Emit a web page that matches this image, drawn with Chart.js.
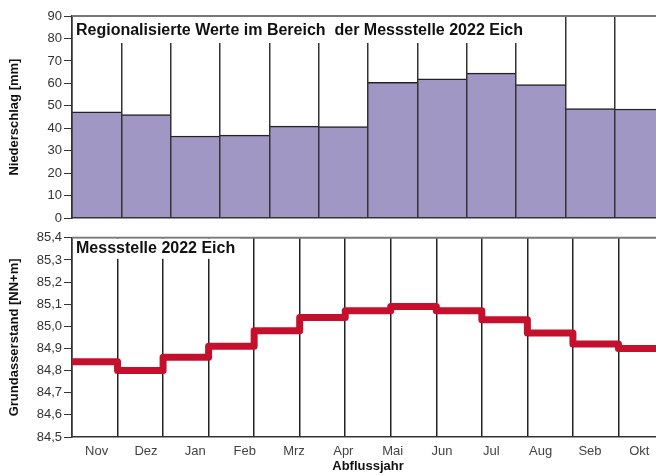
<!DOCTYPE html>
<html>
<head>
<meta charset="utf-8">
<script src="https://cdn.jsdelivr.net/npm/chart.js@4"></script>
<style>
  html, body { margin: 0; padding: 0; background: #fff; overflow: hidden; }
  #wrap { position: relative; width: 656px; height: 475px; overflow: hidden; }
  #top { position: absolute; left: 0; top: 0; }
  #bottom { position: absolute; left: 0; top: 228px; }
</style>
</head>
<body>
<div id="wrap">
  <canvas id="top" width="664" height="228"></canvas>
  <canvas id="bottom" width="664" height="247"></canvas>
</div>
<script>
// Monate des Abflussjahres
const months = ['Nov', 'Dez', 'Jan', 'Feb', 'Mrz', 'Apr', 'Mai', 'Jun', 'Jul', 'Aug', 'Seb', 'Okt'];
// Niederschlag [mm] je Monat
const niederschlag = [47.4, 46.1, 36.6, 37.0, 41.0, 40.8, 60.5, 62.0, 64.6, 59.5, 48.8, 48.6];
// Grundwasserstand [NN+m], Stufen
const grundwasser = [84.84, 84.80, 84.86, 84.91, 84.98, 85.04, 85.07, 85.09, 85.07, 85.03, 84.97, 84.92, 84.90];
const nsMin = 0, nsMax = 90, nsStep = 10;
const gwMin = 84.5, gwMax = 85.4, gwStep = 0.1;

Chart.defaults.font.family = "'Liberation Sans', Arial, sans-serif";
Chart.defaults.animation = false;

// Rahmen oben + Titelkasten
const panelPlugin = {
  id: 'panel',
  afterDraw(chart, args, opts) {
    const ctx = chart.ctx, a = chart.chartArea;
    ctx.save();
    ctx.strokeStyle = '#777';
    ctx.lineWidth = 2;
    ctx.beginPath();
    ctx.moveTo(a.left, a.top);
    ctx.lineTo(a.right, a.top);
    ctx.stroke();
    ctx.font = opts.font;
    const w = ctx.measureText(opts.text).width;
    ctx.fillStyle = '#fff';
    ctx.fillRect(a.left + 1, a.top + 1, w + 8, opts.boxHeight);
    ctx.fillStyle = '#111';
    ctx.textBaseline = 'middle';
    ctx.fillText(opts.text, a.left + 4, a.top + opts.textY);
    ctx.restore();
  }
};

new Chart(document.getElementById('top'), {
  type: 'bar',
  data: {
    labels: months,
    datasets: [{
      data: niederschlag,
      backgroundColor: '#a197c4',
      borderColor: '#222',
      borderWidth: { top: 1.5, left: 0, right: 0, bottom: 0 },
      borderSkipped: false,
      categoryPercentage: 1,
      barPercentage: 1
    }]
  },
  plugins: [panelPlugin],
  options: {
    responsive: false,
    devicePixelRatio: 1,
    layout: { padding: { top: 16, right: 0, left: 0, bottom: 0 } },
    plugins: {
      legend: { display: false },
      tooltip: { enabled: false },
      panel: { text: 'Regionalisierte Werte im Bereich  der Messstelle 2022 Eich', font: 'bold 16px "Liberation Sans", Arial, sans-serif', boxHeight: 26, textY: 15 }
    },
    scales: {
      x: {
        grid: { z: 1, color: '#333', lineWidth: 1.5, offset: true, drawTicks: false },
        border: { z: 1, color: '#333', width: 1.5 },
        ticks: { display: false },
        afterFit: s => { s.height = 5; }
      },
      y: {
        min: nsMin, max: nsMax,
        ticks: { stepSize: nsStep, color: '#333', font: { size: 13 }, padding: 2 },
        grid: { drawOnChartArea: false, drawTicks: true, tickLength: 8, color: '#333' },
        border: { z: 1, color: '#333', width: 1.5 },
        title: { display: true, text: 'Niederschlag [mm]', color: '#111', font: { size: 13, weight: 'bold' }, padding: { top: 7, bottom: 0 } },
        afterFit: s => { s.width = 72; }
      }
    }
  }
});

new Chart(document.getElementById('bottom'), {
  type: 'line',
  data: {
    datasets: [{
      data: grundwasser.map((v, i) => ({ x: i, y: v })).concat([{ x: grundwasser.length, y: grundwasser[grundwasser.length - 1] }]),
      xAxisID: 'x',
      borderColor: '#c4102c',
      borderWidth: 7,
      stepped: 'before',
      pointRadius: 0,
      borderJoinStyle: 'round',
      fill: false
    }]
  },
  plugins: [panelPlugin],
  options: {
    responsive: false,
    devicePixelRatio: 1,
    layout: { padding: { top: 5, right: 0, left: 0, bottom: 1 } },
    plugins: {
      legend: { display: false },
      tooltip: { enabled: false },
      panel: { text: 'Messstelle 2022 Eich', font: 'bold 16px "Liberation Sans", Arial, sans-serif', boxHeight: 20, textY: 11 }
    },
    scales: {
      x: {
        type: 'linear', min: 0, max: grundwasser.length, position: 'bottom',
        ticks: { display: false, stepSize: 1 },
        grid: { color: '#222', lineWidth: 1.5, drawTicks: false },
        border: { display: false },
        afterFit: s => { s.height = 0; }
      },
      xl: {
        type: 'category', labels: months, offset: true, position: 'bottom',
        grid: { display: false, drawTicks: false },
        border: { color: '#333', width: 1.5 },
        ticks: { color: '#444', font: { size: 13 }, padding: 7 },
        title: { display: true, text: 'Abflussjahr', color: '#111', font: { size: 13, weight: 'bold' }, padding: 0 },
        afterFit: s => { s.height = 37; }
      },
      y: {
        min: gwMin, max: gwMax,
        ticks: { stepSize: gwStep, color: '#333', font: { size: 13 }, padding: 2, callback: v => v.toFixed(1).replace('.', ',') },
        grid: { drawOnChartArea: false, drawTicks: true, tickLength: 8, color: '#333' },
        border: { color: '#333', width: 1.5 },
        title: { display: true, text: 'Grundasserstand [NN+m]', color: '#111', font: { size: 13, weight: 'bold' }, padding: { top: 7, bottom: 0 } },
        afterFit: s => { s.width = 72; }
      }
    }
  }
});
</script>
</body>
</html>
